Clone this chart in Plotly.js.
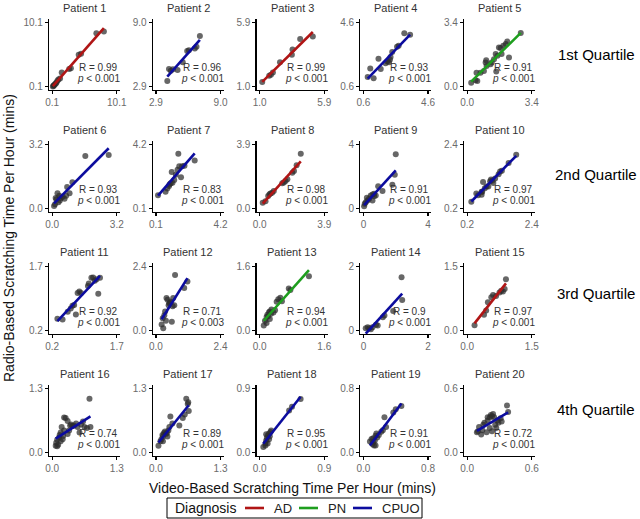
<!DOCTYPE html>
<html>
<head>
<meta charset="utf-8">
<script src="https://cdn.plot.ly/plotly-3.0.1.min.js"></script>
<style>
  html, body { margin: 0; padding: 0; background: #fff; }
  #chart { width: 640px; height: 519px; }
</style>
</head>
<body>
<div id="chart"></div>
<script>
// points, one pair of arrays per patient (video x, radio y)
const p1x = [0.2, 0.3, 0.36, 0.47, 0.63, 0.73, 0.89, 1.05, 1.31, 1.57, 2.73, 2.99, 4.2, 4.57, 6.94, 8.1]
const p1y = [0.15, 0.25, 0.31, 0.47, 0.58, 0.73, 1.0, 1.21, 1.37, 2.32, 2.85, 2.96, 5.07, 5.23, 8.4, 8.67]
const p2x = [3.97, 4.13, 4.3, 4.5, 4.94, 5.43, 5.85, 6.01, 6.57, 6.73, 7.05]
const p2y = [3.45, 4.58, 4.42, 4.55, 4.48, 5.22, 6.29, 6.35, 6.51, 6.68, 7.71]
const p3x = [1.19, 1.72, 1.85, 2.0, 2.54, 3.44, 3.49, 4.07, 5.03]
const p3y = [1.36, 1.83, 1.91, 2.09, 2.87, 3.44, 3.83, 4.63, 4.81]
const p4x = [0.86, 1.02, 1.23, 1.53, 1.67, 1.97, 2.08, 2.18, 2.24, 2.28, 2.38, 2.68, 2.78, 3.13, 3.49]
const p4y = [1.21, 1.74, 1.13, 2.34, 1.70, 2.06, 2.17, 2.12, 2.27, 2.44, 2.76, 3.08, 3.14, 3.92, 3.82]
const p5x = [0.21, 0.44, 0.53, 0.49, 0.70, 0.88, 0.97, 1.0, 1.02, 1.23, 1.29, 1.41, 1.50, 1.59, 1.67, 1.76, 1.90, 2.03, 2.11, 2.20, 1.53, 2.82, 1.81]
const p5y = [0.21, 0.34, 0.30, 0.74, 0.74, 0.83, 1.28, 1.40, 1.10, 1.19, 1.28, 1.45, 1.72, 1.63, 2.07, 2.04, 2.16, 2.25, 2.39, 1.54, 0.80, 2.83, 1.72]
const p6x = [0.09, 0.14, 0.17, 0.21, 0.26, 0.31, 0.35, 0.38, 0.43, 0.52, 0.61, 0.69, 0.74, 0.86, 1.0, 1.64, 2.80]
const p6y = [0.14, 0.23, 0.54, 0.47, 0.77, 0.32, 0.65, 0.41, 0.54, 0.59, 0.50, 0.65, 1.08, 0.77, 1.31, 2.62, 2.66]
const p7x = [0.23, 0.71, 0.82, 0.93, 0.97, 1.04, 1.15, 1.10, 1.26, 1.36, 1.47, 1.52, 1.58, 1.69, 1.76, 1.91, 2.56]
const p7y = [0.96, 1.18, 1.39, 1.55, 1.65, 1.72, 1.76, 2.43, 1.93, 2.26, 2.58, 3.60, 2.80, 2.11, 2.80, 2.84, 3.16]
const p8x = [0.18, 0.35, 0.51, 0.59, 0.65, 0.75, 0.85, 1.36, 1.46, 1.56, 1.67, 1.97, 2.07, 2.23, 2.48]
const p8y = [0.36, 0.46, 0.77, 0.87, 0.93, 0.97, 1.07, 1.54, 1.58, 1.68, 1.78, 2.18, 2.28, 2.63, 3.33]
const p9x = [0.04, 0.08, 0.14, 0.25, 0.21, 0.35, 0.45, 0.56, 0.66, 0.76, 0.91, 1.18, 1.79, 1.94, 2.0, 0.66, 0.56]
const p9y = [0.15, 0.31, 0.41, 0.52, 0.68, 0.62, 0.83, 0.89, 0.77, 0.83, 1.39, 1.10, 1.49, 2.11, 3.38, 0.93, 0.52]
const p10x = [0.34, 0.51, 0.57, 0.69, 0.71, 0.74, 0.80, 0.86, 0.92, 0.98, 1.01, 1.06, 1.09, 1.15, 1.27, 1.32, 1.38, 1.61, 1.87, 0.69]
const p10y = [0.44, 0.72, 0.66, 0.68, 0.78, 1.11, 0.90, 0.96, 0.96, 1.14, 1.20, 1.16, 1.08, 1.23, 1.38, 1.47, 1.50, 1.76, 2.04, 0.78]
const p11x = [0.32, 0.44, 0.56, 0.63, 0.67, 0.71, 0.75, 0.79, 0.83, 0.87, 1.03, 1.05, 1.11, 1.15, 1.19, 1.23, 1.27, 1.31]
const p11y = [0.48, 0.46, 0.64, 0.72, 0.78, 0.80, 0.58, 1.08, 1.11, 1.08, 1.24, 1.30, 1.43, 1.44, 1.36, 1.40, 1.06, 1.43]
const p12x = [0.21, 0.25, 0.27, 0.31, 0.34, 0.37, 0.39, 0.43, 0.47, 0.49, 0.52, 0.55, 0.59, 0.62, 0.64, 0.68, 0.71, 1.05, 1.17]
const p12y = [0.23, 0.47, 0.09, 0.58, 0.72, 0.37, 1.22, 1.15, 0.95, 1.02, 1.04, 1.08, 0.34, 0.91, 1.22, 0.95, 2.07, 1.59, 1.83]
const p13x = [0.10, 0.13, 0.17, 0.19, 0.21, 0.23, 0.25, 0.28, 0.29, 0.34, 0.38, 0.42, 0.46, 0.51, 0.55, 0.72, 0.76, 1.22, 0.17, 0.25]
const p13y = [0.13, 0.25, 0.34, 0.40, 0.36, 0.46, 0.48, 0.42, 0.53, 0.45, 0.51, 0.72, 0.78, 0.82, 0.73, 1.05, 1.01, 1.35, 0.19, 0.29]
const p14x = [0.07, 0.13, 0.18, 0.23, 0.28, 0.39, 0.44, 0.60, 0.65, 0.92, 1.18, 1.20]
const p14y = [0.08, 0.11, 0.08, 0.05, 0.11, 0.19, 0.16, 0.42, 0.47, 0.61, 1.66, 0.95]
const p15x = [0.17, 0.39, 0.44, 0.48, 0.56, 0.60, 0.67, 0.75, 0.79, 0.83, 0.87, 0.90]
const p15y = [0.13, 0.37, 0.47, 0.66, 0.78, 0.83, 0.81, 0.89, 0.93, 0.91, 0.97, 1.20]
const p16x = [0.07, 0.08, 0.10, 0.12, 0.14, 0.15, 0.17, 0.19, 0.21, 0.22, 0.24, 0.27, 0.31, 0.34, 0.36, 0.38, 0.41, 0.44, 0.48, 0.51, 0.55, 0.58, 0.62, 0.65, 0.70, 0.75, 0.77, 0.10, 0.17, 0.24, 0.31]
const p16y = [0.14, 0.20, 0.26, 0.16, 0.31, 0.36, 0.41, 0.52, 0.27, 0.34, 0.71, 0.70, 0.38, 0.45, 0.55, 0.57, 0.54, 0.55, 0.59, 0.52, 0.41, 0.57, 0.63, 0.52, 0.50, 1.09, 0.52, 0.13, 0.23, 0.45, 0.64]
const p17x = [0.05, 0.09, 0.11, 0.13, 0.14, 0.16, 0.18, 0.20, 0.22, 0.23, 0.25, 0.27, 0.29, 0.33, 0.47, 0.54, 0.58, 0.61, 0.64, 0.65, 0.66, 0.14]
const p17y = [0.14, 0.23, 0.27, 0.36, 0.33, 0.40, 0.43, 0.38, 0.40, 0.33, 0.45, 0.52, 0.73, 0.59, 0.55, 0.70, 0.77, 1.09, 0.98, 1.02, 0.84, 0.23]
const p18x = [0.05, 0.08, 0.09, 0.10, 0.11, 0.13, 0.14, 0.15, 0.09, 0.11, 0.13, 0.16, 0.41, 0.45, 0.57, 0.08]
const p18y = [0.08, 0.13, 0.17, 0.21, 0.24, 0.27, 0.23, 0.29, 0.26, 0.13, 0.19, 0.31, 0.59, 0.64, 0.75, 0.10]
const p19x = [0.08, 0.10, 0.11, 0.12, 0.13, 0.14, 0.15, 0.16, 0.17, 0.19, 0.22, 0.24, 0.26, 0.28, 0.37, 0.40, 0.47, 0.15, 0.12]
const p19y = [0.14, 0.17, 0.11, 0.13, 0.09, 0.15, 0.21, 0.24, 0.19, 0.22, 0.26, 0.28, 0.44, 0.32, 0.50, 0.54, 0.58, 0.09, 0.18]
const p20x = [0.09, 0.11, 0.13, 0.14, 0.15, 0.16, 0.18, 0.19, 0.19, 0.21, 0.22, 0.23, 0.23, 0.24, 0.25, 0.26, 0.27, 0.28, 0.29, 0.31, 0.32, 0.37, 0.38, 0.10, 0.21]
const p20y = [0.19, 0.24, 0.17, 0.21, 0.26, 0.28, 0.19, 0.30, 0.33, 0.33, 0.35, 0.20, 0.34, 0.36, 0.33, 0.26, 0.23, 0.30, 0.28, 0.32, 0.29, 0.44, 0.38, 0.20, 0.23]

const patients = ['Patient 1', 'Patient 2', 'Patient 3', 'Patient 4', 'Patient 5',
  'Patient 6', 'Patient 7', 'Patient 8', 'Patient 9', 'Patient 10',
  'Patient 11', 'Patient 12', 'Patient 13', 'Patient 14', 'Patient 15',
  'Patient 16', 'Patient 17', 'Patient 18', 'Patient 19', 'Patient 20']
const diagnosis = ['AD', 'CPUO', 'AD', 'CPUO', 'PN',
  'CPUO', 'CPUO', 'AD', 'CPUO', 'CPUO',
  'CPUO', 'CPUO', 'PN', 'CPUO', 'AD',
  'CPUO', 'CPUO', 'CPUO', 'CPUO', 'CPUO']
const rValues = ['0.99', '0.96', '0.99', '0.93', '0.91',
  '0.93', '0.83', '0.98', '0.91', '0.97',
  '0.92', '0.71', '0.94', '0.9', '0.97',
  '0.74', '0.89', '0.95', '0.91', '0.72']
const pValues = ['0.001', '0.001', '0.001', '0.001', '0.001',
  '0.001', '0.001', '0.001', '0.001', '0.001',
  '0.001', '0.003', '0.001', '0.001', '0.001',
  '0.001', '0.001', '0.001', '0.001', '0.001']
// both axes of a panel share the same two ticks
const tickLow = ['0.1', '2.9', '1.0', '0.6', '0.0',
  '0.0', '0.1', '0.0', '0', '0.2',
  '0.2', '0.0', '0.0', '0', '0.0',
  '0.0', '0.0', '0.0', '0.0', '0.0']
const tickHigh = ['10.1', '9.0', '5.9', '4.6', '3.4',
  '3.2', '4.2', '3.9', '4', '2.4',
  '1.7', '2.4', '1.6', '2', '1.5',
  '1.3', '1.3', '0.9', '0.8', '0.6']
const quartiles = ['1st Quartile', '2nd Quartile', '3rd Quartile', '4th Quartile']
const diagnosisNames = ['AD', 'PN', 'CPUO']

const panelX = [p1x, p2x, p3x, p4x, p5x, p6x, p7x, p8x, p9x, p10x, p11x, p12x, p13x, p14x, p15x, p16x, p17x, p18x, p19x, p20x]
const panelY = [p1y, p2y, p3y, p4y, p5y, p6y, p7y, p8y, p9y, p10y, p11y, p12y, p13y, p14y, p15y, p16y, p17y, p18y, p19y, p20y]

const colors = { AD: '#B01515', PN: '#1E9E1E', CPUO: '#0C0C9E' }
const FONT = 'Liberation Sans, Arial, sans-serif'
const W = 640, H = 519

let fx = px => px / W
let fy = py => 1 - py / H

// least squares line over the range of x, like geom_smooth(method = "lm")
function fitLine(xs, ys) {
  let n = xs.length
  let mx = xs.reduce((a, b) => a + b, 0) / n
  let my = ys.reduce((a, b) => a + b, 0) / n
  let sxy = 0, sxx = 0
  for (let i = 0; i < n; i++) {
    sxy += (xs[i] - mx) * (ys[i] - my)
    sxx += (xs[i] - mx) * (xs[i] - mx)
  }
  let b = sxy / sxx
  let a = my - b * mx
  let x0 = Math.min(...xs), x1 = Math.max(...xs)
  return { x: [x0, x1], y: [a + b * x0, a + b * x1] }
}

let traces = []
let annotations = []
let shapes = []
let layout = {
  width: W,
  height: H,
  margin: { l: 0, r: 0, t: 0, b: 0, autoexpand: false },
  paper_bgcolor: '#fff',
  plot_bgcolor: '#fff',
  font: { family: FONT, color: '#222' },
  showlegend: false
}

patients.forEach((name, i) => {
  let col = i % 5
  let row = Math.floor(i / 5)
  let n = i + 1
  let xa = n === 1 ? 'x' : 'x' + n
  let ya = n === 1 ? 'y' : 'y' + n

  let lo = parseFloat(tickLow[i])
  let hi = parseFloat(tickHigh[i])
  let pad = (hi - lo) * 0.05
  let left = 49 + col * 103.75
  let top = 19 + row * 122

  let axis = {
    range: [lo - pad, hi + pad],
    tickvals: [lo, hi],
    ticktext: [tickLow[i], tickHigh[i]],
    showgrid: false,
    zeroline: false,
    showline: true,
    linecolor: '#000',
    linewidth: 1.1,
    ticks: 'outside',
    ticklen: 3,
    tickwidth: 1.1,
    tickcolor: '#000',
    tickfont: { size: 10, color: '#6b6b6b', family: FONT },
    fixedrange: true
  }
  layout['xaxis' + (n === 1 ? '' : n)] = Object.assign({}, axis, {
    domain: [fx(left), fx(left + 71)],
    anchor: ya
  })
  layout['yaxis' + (n === 1 ? '' : n)] = Object.assign({}, axis, {
    domain: [fy(top + 71), fy(top)],
    anchor: xa
  })

  let dx = diagnosis[i]
  let fit = fitLine(panelX[i], panelY[i])

  traces.push({
    type: 'scatter', mode: 'markers',
    x: panelX[i], y: panelY[i],
    xaxis: xa, yaxis: ya,
    marker: { size: 6, color: 'rgba(45,45,45,0.72)' },
    hoverinfo: 'skip'
  })
  traces.push({
    type: 'scatter', mode: 'lines',
    x: fit.x, y: fit.y,
    xaxis: xa, yaxis: ya,
    line: { color: colors[dx], width: 2.6 },
    name: dx,
    hoverinfo: 'skip'
  })

  // panel strip title
  annotations.push({
    xref: xa + ' domain', yref: ya + ' domain',
    x: 0.5, y: 1, yanchor: 'bottom', yshift: 3,
    text: name, showarrow: false,
    font: { size: 11, color: '#333' }
  })
  // correlation labels
  annotations.push({
    xref: xa + ' domain', yref: ya + ' domain',
    x: 0.7, y: 0.31, xanchor: 'center', yanchor: 'middle',
    text: 'R = ' + rValues[i], showarrow: false,
    font: { size: 10, color: '#333' }
  })
  annotations.push({
    xref: xa + ' domain', yref: ya + ' domain',
    x: 0.7, y: 0.155, xanchor: 'center', yanchor: 'middle',
    text: '<i>p</i> &lt; ' + pValues[i], showarrow: false,
    font: { size: 10, color: '#333' }
  })
})

// quartile row labels on the right
const quartileY = [55, 175, 293, 409]
quartiles.forEach((q, r) => {
  annotations.push({
    xref: 'paper', yref: 'paper',
    x: fx(596), y: fy(quartileY[r]), xanchor: 'center', yanchor: 'middle',
    text: q, showarrow: false,
    font: { size: 15, color: '#000' }
  })
})

// axis titles
annotations.push({
  xref: 'paper', yref: 'paper',
  x: fx(292), y: fy(488), xanchor: 'center', yanchor: 'middle',
  text: 'Video-Based Scratching Time Per Hour (mins)', showarrow: false,
  font: { size: 14, color: '#111' }
})
annotations.push({
  xref: 'paper', yref: 'paper',
  x: fx(9), y: fy(238), xanchor: 'center', yanchor: 'middle',
  textangle: -90,
  text: 'Radio-Based Scratching Time Per Hour (mins)', showarrow: false,
  font: { size: 14, color: '#111' }
})

// legend drawn by hand so it keeps the slim ggplot box
shapes.push({
  type: 'rect', xref: 'paper', yref: 'paper',
  x0: fx(167), x1: fx(422), y0: fy(518), y1: fy(498),
  line: { color: '#000', width: 1 }, fillcolor: 'rgba(0,0,0,0)'
})
annotations.push({
  xref: 'paper', yref: 'paper',
  x: fx(173), y: fy(508), xanchor: 'left', yanchor: 'middle',
  text: 'Diagnosis', showarrow: false,
  font: { size: 14, color: '#111' }
})
const keyLeft = [245, 299, 353]
diagnosisNames.forEach((d, k) => {
  shapes.push({
    type: 'line', xref: 'paper', yref: 'paper',
    x0: fx(keyLeft[k]), x1: fx(keyLeft[k] + 19), y0: fy(508), y1: fy(508),
    line: { color: colors[d], width: 2.6 }
  })
  annotations.push({
    xref: 'paper', yref: 'paper',
    x: fx(keyLeft[k] + 27), y: fy(508), xanchor: 'left', yanchor: 'middle',
    text: d, showarrow: false,
    font: { size: 13, color: '#222' }
  })
})

layout.annotations = annotations
layout.shapes = shapes

Plotly.newPlot('chart', traces, layout, { displayModeBar: false, staticPlot: true })
</script>
</body>
</html>
